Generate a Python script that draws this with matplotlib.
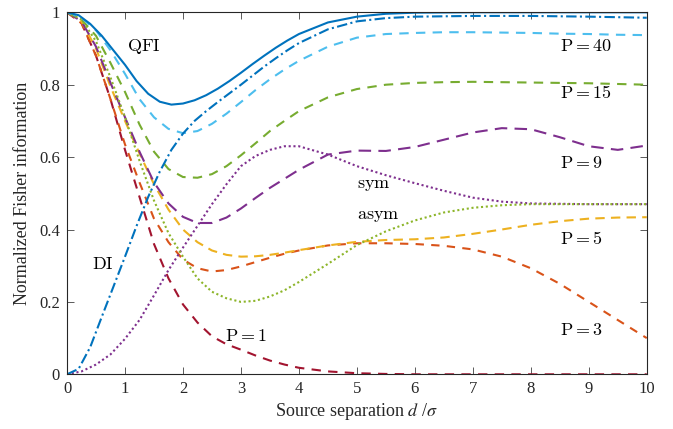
import matplotlib
matplotlib.use("Agg")
import matplotlib.pyplot as plt

plt.rcParams['font.family'] = ['Liberation Serif', 'DejaVu Serif']
plt.rcParams['mathtext.fontset'] = 'stix'

# ---------------- data ----------------
# finer grid for the solid / dash-dot curves (QFI and DI)
d_fine = [0, 0.2, 0.4, 0.6, 0.8, 1.0, 1.2, 1.4, 1.6, 1.8, 2.0, 2.2, 2.4, 2.6, 2.8, 3.0,
          3.2, 3.4, 3.6, 3.8, 4.0, 4.5, 5.0, 5.5, 6.0, 7.0, 8.0, 9.0, 10.0]
qfi = [1, .992, .968, .935, .895, .855, .81, .775, .753, .745, .748, .757, .771, .789, .81, .833,
       .857, .88, .902, .922, .94, .972, .988, .996, .999, 1, 1, 1, 1]
di = [0, .015, .075, .159, .242, .325, .41, .49, .56, .62, .665, .70, .727, .752, .776, .80,
      .825, .85, .873, .895, .915, .953, .975, .984, .988, .99, .99, .988, .985]

d = [0, 0.25, 0.5, 0.75, 1.0, 1.25, 1.5, 1.75, 2.0, 2.25, 2.5, 2.75, 3.0, 3.25, 3.5, 3.75,
     4.0, 4.5, 5.0, 5.5, 6.0, 6.5, 7.0, 7.5, 8.0, 8.5, 9.0, 9.5, 10.0]
p40 = [1, .985, .95, .895, .83, .76, .71, .678, .666, .672, .692, .72, .752, .785, .815, .842,
       .866, .905, .93, .94, .943, .945, .945, .944, .943, .941, .94, .938, .937]
p15 = [1, .98, .935, .86, .78, .69, .615, .567, .545, .543, .553, .575, .605, .638, .672, .70,
       .727, .765, .788, .80, .805, .807, .808, .807, .806, .805, .804, .802, .80]
p9 = [1, .975, .905, .805, .71, .615, .53, .472, .435, .418, .418, .433, .458, .487, .515, .54,
      .565, .607, .618, .617, .628, .648, .668, .68, .677, .655, .63, .62, .632]
p5 = [1, .975, .90, .795, .70, .61, .525, .455, .40, .365, .342, .33, .325, .326, .33, .336,
      .343, .356, .366, .371, .373, .378, .388, .40, .413, .423, .43, .433, .434]
p3 = [1, .97, .88, .76, .635, .53, .43, .365, .317, .293, .284, .288, .298, .31, .322, .333,
      .342, .356, .362, .362, .36, .355, .345, .325, .293, .25, .20, .15, .10]
p1 = [1, .97, .88, .76, .62, .49, .36, .265, .193, .143, .105, .083, .068, .052, .038, .027,
      .018, .008, .003, .001, 0, 0, 0, 0, 0, 0, 0, 0, 0]
sym = [0, .008, .027, .055, .098, .15, .218, .288, .35, .41, .47, .525, .575, .603, .62, .63,
       .63, .607, .575, .55, .528, .507, .488, .477, .472, .471, .47, .47, .47]
asym = [1, .98, .92, .82, .71, .59, .48, .39, .325, .265, .228, .21, .20, .203, .215, .232,
        .255, .305, .357, .395, .425, .447, .46, .467, .47, .47, .47, .47, .47]

# MATLAB default colours
blue, orange, yellow, purple = '#0072BD', '#D95319', '#EDB120', '#7E2F8E'
green, cyan, red = '#77AC30', '#4DBEEE', '#A2142F'

fig = plt.figure(figsize=(6.73, 4.29), dpi=100)
ax = fig.add_axes([0.0996, 0.1275, 0.8614, 0.8438])

lw = 1.5
ax.plot(d, p1, color=red, lw=lw, dashes=(4.5, 3.5))
ax.plot(d, p3, color=orange, lw=lw, dashes=(4, 3.5))
ax.plot(d, p5, color=yellow, lw=lw, dashes=(4.5, 3))
ax.plot(d, p9, color=purple, lw=lw, dashes=(6, 3.5))
ax.plot(d, p15, color=green, lw=lw, dashes=(4.5, 3.5))
ax.plot(d, p40, color=cyan, lw=lw, dashes=(4.5, 3.5))
ax.plot(d, sym, color=purple, lw=lw, dashes=(1, 1.3))
ax.plot(d, asym, color='#8DB52A', lw=lw, dashes=(1, 1.3))
ax.plot(d_fine, di, color=blue, lw=lw, dashes=(5, 1.6, 1, 1.6))
ax.plot(d_fine, qfi, color=blue, lw=lw)

ax.set_xlim(0, 10)
ax.set_ylim(0, 1)
ax.set_xticks(range(11))
ax.set_yticks([0, 0.2, 0.4, 0.6, 0.8, 1])
ax.set_yticklabels(['0', '0.2', '0.4', '0.6', '0.8', '1'])
ax.tick_params(direction='in', top=True, right=True, length=5, width=0.6,
               color='#404040', labelsize=12, labelcolor='#262626', pad=5)
for s in ax.spines.values():
    s.set_linewidth(0.8)
    s.set_color('#262626')

ax.set_xlabel(r'Source separation $d$ /$\sigma$', fontsize=13, color='#262626', labelpad=3)
ax.set_ylabel('Normalized Fisher information', fontsize=13, color='#262626', labelpad=6)

lab = dict(fontsize=13, math_fontfamily='cm', va='center', ha='left')
ax.text(1.03, 0.905, r'$\mathrm{QFI}$', **lab)
ax.text(0.43, 0.302, r'$\mathrm{DI}$', **lab)
ax.text(2.73, 0.104, r'$\mathrm{P=1}$', **lab)
ax.text(5.0, 0.523, r'$\mathrm{sym}$', **lab)
ax.text(5.0, 0.44, r'$\mathrm{asym}$', **lab)
ax.text(8.51, 0.905, r'$\mathrm{P=40}$', **lab)
ax.text(8.51, 0.776, r'$\mathrm{P=15}$', **lab)
ax.text(8.51, 0.583, r'$\mathrm{P=9}$', **lab)
ax.text(8.51, 0.373, r'$\mathrm{P=5}$', **lab)
ax.text(8.51, 0.122, r'$\mathrm{P=3}$', **lab)

fig.savefig('out.png', dpi=100)
